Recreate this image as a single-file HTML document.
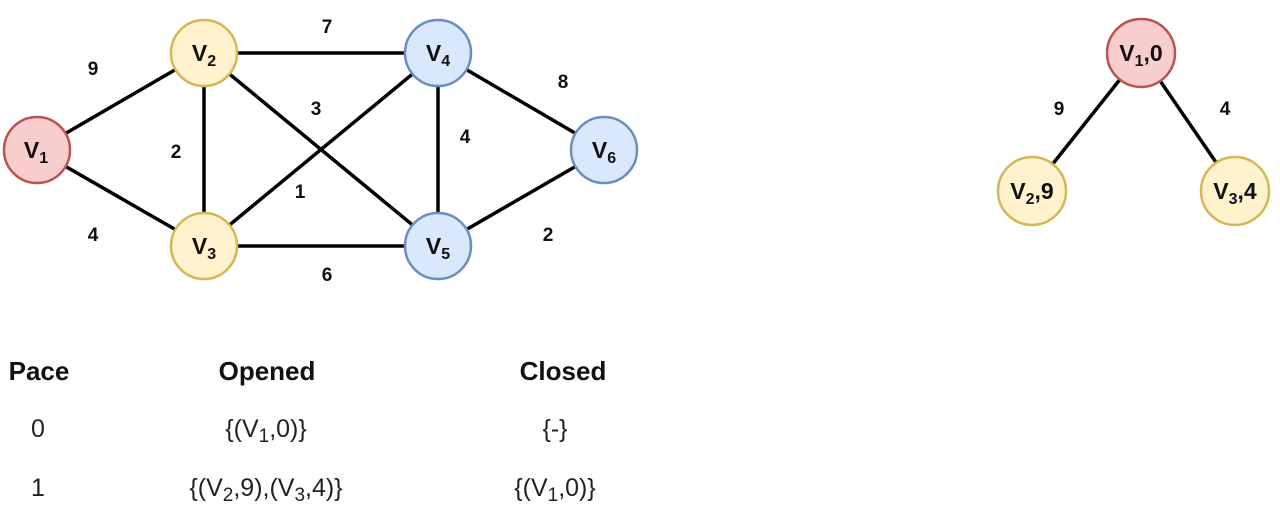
<!DOCTYPE html>
<html><head><meta charset="utf-8"><style>
html,body{margin:0;padding:0;background:#fff;width:1280px;height:508px;overflow:hidden}
svg{display:block;font-family:"Liberation Sans",Arial,sans-serif}
</style></head><body>
<svg width="1280" height="508" viewBox="0 0 1280 508">
<g stroke="#000" stroke-width="3.5">
<line x1="37" y1="150" x2="204" y2="53"/>
<line x1="37" y1="150" x2="204" y2="246"/>
<line x1="204" y1="53" x2="438" y2="53"/>
<line x1="204" y1="53" x2="204" y2="246"/>
<line x1="204" y1="53" x2="438" y2="246"/>
<line x1="204" y1="246" x2="438" y2="53"/>
<line x1="204" y1="246" x2="438" y2="246"/>
<line x1="438" y1="53" x2="438" y2="246"/>
<line x1="438" y1="53" x2="604" y2="150"/>
<line x1="438" y1="246" x2="604" y2="150"/>
<line x1="1141" y1="53" x2="1032" y2="190"/>
<line x1="1141" y1="53" x2="1235" y2="190"/>
</g>
<g font-size="19" font-weight="bold" text-anchor="middle" fill="#111">
<text x="93" y="75">9</text>
<text x="93" y="241">4</text>
<text x="327" y="33">7</text>
<text x="176" y="158">2</text>
<text x="316" y="115">3</text>
<text x="300" y="198">1</text>
<text x="327" y="281">6</text>
<text x="465" y="143">4</text>
<text x="563" y="88">8</text>
<text x="548" y="241">2</text>
<text x="1059" y="115">9</text>
<text x="1225" y="115">4</text>
</g>
<g stroke-width="2.5">
<circle cx="37" cy="150" r="33" fill="#f8cecc" stroke="#b85450"/>
<circle cx="204" cy="53" r="33" fill="#fff2cc" stroke="#d6b656"/>
<circle cx="204" cy="246" r="33" fill="#fff2cc" stroke="#d6b656"/>
<circle cx="438" cy="53" r="33" fill="#dae8fc" stroke="#6c8ebf"/>
<circle cx="438" cy="246" r="33" fill="#dae8fc" stroke="#6c8ebf"/>
<circle cx="604" cy="150" r="33" fill="#dae8fc" stroke="#6c8ebf"/>
<circle cx="1141" cy="53" r="34" fill="#f8cecc" stroke="#b85450"/>
<circle cx="1032" cy="191" r="34" fill="#fff2cc" stroke="#d6b656"/>
<circle cx="1235" cy="191" r="34" fill="#fff2cc" stroke="#d6b656"/>
</g>
<g font-size="23" font-weight="bold" text-anchor="middle" fill="#111">
<text x="36" y="158">V<tspan font-size="16" dy="5">1</tspan></text>
<text x="204" y="61">V<tspan font-size="16" dy="5">2</tspan></text>
<text x="204" y="254">V<tspan font-size="16" dy="5">3</tspan></text>
<text x="438" y="61">V<tspan font-size="16" dy="5">4</tspan></text>
<text x="438" y="254">V<tspan font-size="16" dy="5">5</tspan></text>
<text x="604" y="158">V<tspan font-size="16" dy="5">6</tspan></text>
<text x="1141" y="61">V<tspan font-size="16" dy="5">1</tspan><tspan dy="-5">,0</tspan></text>
<text x="1032" y="199">V<tspan font-size="16" dy="5">2</tspan><tspan dy="-5">,9</tspan></text>
<text x="1235" y="199">V<tspan font-size="16" dy="5">3</tspan><tspan dy="-5">,4</tspan></text>
</g>
<g font-size="26" font-weight="bold" fill="#111" text-anchor="middle">
<text x="39" y="380">Pace</text>
<text x="267" y="380">Opened</text>
<text x="563" y="380">Closed</text>
</g>
<g font-size="25" fill="#222" text-anchor="middle">
<text x="38" y="437">0</text>
<text x="266" y="437">{(V<tspan font-size="19" dy="5">1</tspan><tspan dy="-5">,0)}</tspan></text>
<text x="555" y="437">{-}</text>
<text x="38" y="496">1</text>
<text x="266" y="496">{(V<tspan font-size="19" dy="5">2</tspan><tspan dy="-5">,9),(V</tspan><tspan font-size="19" dy="5">3</tspan><tspan dy="-5">,4)}</tspan></text>
<text x="555" y="496">{(V<tspan font-size="19" dy="5">1</tspan><tspan dy="-5">,0)}</tspan></text>
</g>
</svg>
</body></html>
